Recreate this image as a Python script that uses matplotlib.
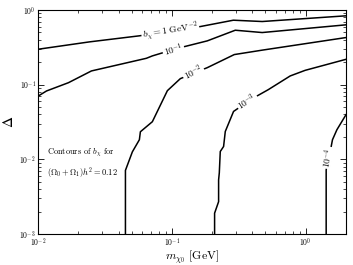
import numpy as np
import matplotlib
matplotlib.use("Agg")
import matplotlib.pyplot as plt

plt.rcParams['font.family'] = 'serif'
plt.rcParams['font.serif'] = ['cmr10']
plt.rcParams['mathtext.fontset'] = 'cm'
plt.rcParams['axes.formatter.use_mathtext'] = True

# contour lines of b_chi (m in GeV, Delta)
m_b1 = [0.01, 0.0242, 0.0572, 0.163, 0.288, 0.473, 2.0]
d_b1 = [0.298, 0.374, 0.451, 0.600, 0.730, 0.701, 0.836]

m_b01 = [0.01, 0.01157, 0.01689, 0.02507, 0.0645, 0.0715, 0.0864, 0.1219, 0.184, 0.2977, 0.473, 2.0]
d_b01 = [0.0701, 0.0823, 0.1063, 0.1527, 0.2255, 0.2428, 0.269, 0.3207, 0.386, 0.536, 0.499, 0.633]

m_b001 = [0.0450, 0.0450, 0.0507, 0.0572, 0.0582, 0.0715, 0.0926, 0.1157, 0.184, 0.2926, 0.4735, 2.0]
d_b001 = [0.001, 0.00711, 0.0126, 0.0183, 0.0234, 0.0319, 0.0831, 0.1204, 0.169, 0.253, 0.290, 0.4276]

m_b0001 = [0.2086, 0.2086, 0.2235, 0.2235, 0.2262, 0.230, 0.2435, 0.2507, 0.289, 0.315, 0.4325, 0.525, 0.766, 0.991, 2.0]
d_b0001 = [0.001, 0.0019, 0.00271, 0.0053, 0.00659, 0.01273, 0.01485, 0.0236, 0.0438, 0.0487, 0.0705, 0.0857, 0.1309, 0.1556, 0.2186]

m_b00001 = [1.422, 1.422, 1.55, 1.585, 1.71, 2.0]
d_b00001 = [0.001, 0.00723, 0.01485, 0.0183, 0.0249, 0.0396]

labels = [r'$b_\chi = 1\ \mathrm{GeV}^{-2}$', r'$10^{-1}$', r'$10^{-2}$', r'$10^{-3}$', r'$10^{-4}$']
label_m = [0.0974, 0.1026, 0.1447, 0.366, 1.47]
label_d = [0.523, 0.295, 0.145, 0.0591, 0.0105]
label_rot = [9, 16, 28, 33, 80]

fig = plt.figure(figsize=(3.53, 2.65), dpi=100)
ax = fig.add_axes([38/353, 31/265, 308/353, 224/265])

for m, d in [(m_b1, d_b1), (m_b01, d_b01), (m_b001, d_b001), (m_b0001, d_b0001), (m_b00001, d_b00001)]:
    ax.plot(m, d, 'k-', lw=1.1)

for t, xm, yd, r in zip(labels, label_m, label_d, label_rot):
    ax.text(xm, yd, t, fontsize=6.8, rotation=r, ha='center', va='center',
            rotation_mode='anchor',
            bbox=dict(fc='white', ec='none', pad=0.8))

ax.text(0.0116, 0.0088, 'Contours of $b_\\chi$ for\n$(\\Omega_0+\\Omega_1)h^2 = 0.12$',
        fontsize=6, ha='left', va='center', linespacing=1.6)

ax.set_xscale('log')
ax.set_yscale('log')
ax.set_xlim(0.01, 2.0)
ax.set_ylim(0.001, 1.0)
ax.tick_params(which='both', direction='in', top=True, right=True, labelsize=5.5, pad=1.5)
ax.tick_params(which='major', length=4, width=0.6)
ax.tick_params(which='minor', length=2, width=0.5)
for s in ax.spines.values():
    s.set_linewidth(0.8)

ax.set_xlabel(r'$m_{\chi_0}$ [GeV]', fontsize=8.5, labelpad=-0.5)
ax.set_ylabel(r'$\Delta$', fontsize=11, labelpad=2, math_fontfamily='stix')

fig.savefig('out.png', dpi=100)
